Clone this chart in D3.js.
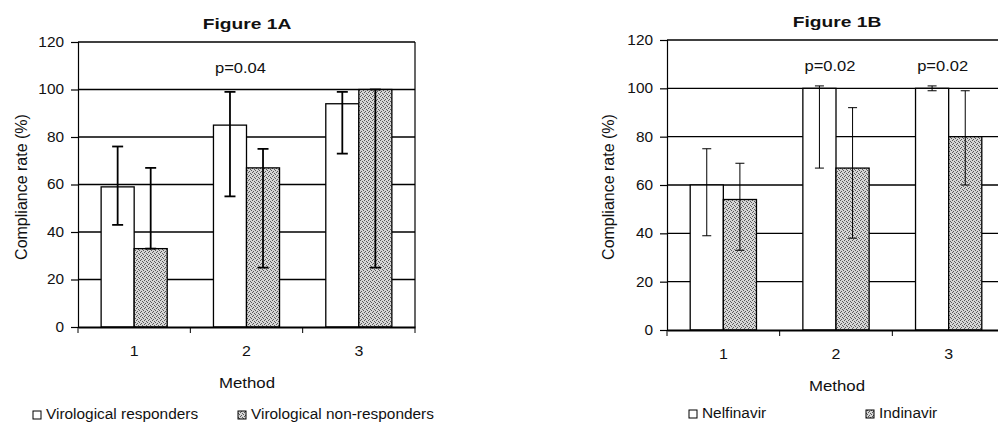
<!DOCTYPE html>
<html><head><meta charset="utf-8">
<script src="https://cdn.jsdelivr.net/npm/d3@7"></script>
<style>
html,body{margin:0;padding:0;background:#fff;}
svg{display:block;}
text{font-family:"Liberation Sans",Arial,sans-serif;fill:#111;}
</style></head>
<body>
<svg id="chart" width="998" height="423"></svg>
<script>
// ---------------- data ----------------
const categories = ["1", "2", "3"];
const yTicks = [0, 20, 40, 60, 80, 100, 120];

// Figure 1A
const seriesA = ["Virological responders", "Virological non-responders"];
const respondersValue = [59, 85, 94];
const respondersLow   = [43, 55, 73];
const respondersHigh  = [76, 99, 99];
const nonRespondersValue = [33, 67, 100];
const nonRespondersLow   = [33, 25, 25];
const nonRespondersHigh  = [67, 75, 100];
const pLabelsA = [{cat: "2", text: "p=0.04", v: 107}];

// Figure 1B
const seriesB = ["Nelfinavir", "Indinavir"];
const nelfinavirValue = [60, 100, 100];
const nelfinavirLow   = [39, 67, 99];
const nelfinavirHigh  = [75, 101, 101];
const indinavirValue = [54, 67, 80];
const indinavirLow   = [33, 38, 60];
const indinavirHigh  = [69, 92, 99];
const pLabelsB = [{cat: "2", text: "p=0.02", v: 107}, {cat: "3", text: "p=0.02", v: 107}];

// ---------------- drawing ----------------
const svg = d3.select("#chart");
const defs = svg.append("defs");
const pat = defs.append("pattern").attr("id", "stip")
  .attr("patternUnits", "userSpaceOnUse").attr("width", 4).attr("height", 4);
pat.append("rect").attr("width", 4).attr("height", 4).attr("fill", "#d6d6d6");
[[0,0],[2,1],[3,2],[1,3]].forEach(([x,y]) =>
  pat.append("rect").attr("x", x).attr("y", y).attr("width", 1).attr("height", 1).attr("fill", "#5a5a5a"));

function stretch(sel, k) {
  sel.each(function() {
    const w = this.getComputedTextLength();
    d3.select(this).attr("textLength", w * k).attr("lengthAdjust", "spacingAndGlyphs");
  });
}

function panel(cfg) {
  const g = svg.append("g");
  const x = d3.scaleBand().domain(categories).range([cfg.left, cfg.right]).padding(0);
  const y = d3.scaleLinear().domain([0, 120]).range([cfg.bottom, cfg.top]);
  const inner = d3.scaleBand().domain([0, 1]).range([0, x.bandwidth()]).paddingInner(0).paddingOuter(0.7);

  // gridlines
  g.append("g").selectAll("line").data(yTicks.filter(d => d > 0)).join("line")
    .attr("x1", cfg.left).attr("x2", cfg.right)
    .attr("y1", d => y(d)).attr("y2", d => y(d))
    .attr("stroke", "#000").attr("stroke-width", 1.4);

  // bars
  const rows = [];
  categories.forEach((c, i) => {
    cfg.series.forEach((s, j) => {
      rows.push({c, j, v: cfg.values[j][i], lo: cfg.low[j][i], hi: cfg.high[j][i]});
    });
  });
  g.append("g").selectAll("rect").data(rows).join("rect")
    .attr("x", d => x(d.c) + inner(d.j))
    .attr("width", inner.bandwidth())
    .attr("y", d => y(d.v))
    .attr("height", d => y(0) - y(d.v))
    .attr("fill", d => d.j === 0 ? "#fff" : "url(#stip)")
    .attr("stroke", "#000").attr("stroke-width", 1.3);

  // axes
  const yAxis = g.append("g").attr("transform", `translate(${cfg.left},0)`)
    .call(d3.axisLeft(y).tickValues(yTicks).tickSize(7).tickPadding(7));
  yAxis.select(".domain").attr("stroke", "#000").attr("stroke-width", 1.2);
  yAxis.selectAll(".tick line").attr("stroke", "#000").attr("stroke-width", 1.2);
  yAxis.selectAll("text").attr("font-size", 14).attr("font-family", "Liberation Sans, Arial, sans-serif").attr("fill", "#111");
  stretch(yAxis.selectAll("text"), 1.1);

  const xAxis = g.append("g").attr("transform", `translate(0,${cfg.bottom})`)
    .call(d3.axisBottom(x).tickSize(0).tickPadding(19));
  xAxis.select(".domain").attr("stroke", "#000").attr("stroke-width", 1.8);
  xAxis.selectAll("text").attr("font-size", 14.5).attr("font-family", "Liberation Sans, Arial, sans-serif").attr("fill", "#111");
  stretch(xAxis.selectAll("text"), 1.1);
  // boundary ticks
  g.append("g").selectAll("line").data(categories.concat(["end"])).join("line")
    .attr("x1", (d, i) => cfg.left + i * x.step()).attr("x2", (d, i) => cfg.left + i * x.step())
    .attr("y1", cfg.bottom).attr("y2", cfg.bottom + 6)
    .attr("stroke", "#000").attr("stroke-width", 1);

  // right border
  g.append("line").attr("x1", cfg.right).attr("x2", cfg.right)
    .attr("y1", cfg.top).attr("y2", cfg.bottom).attr("stroke", "#000").attr("stroke-width", 1.2);

  // error bars
  const eb = g.append("g").attr("stroke", "#000").attr("stroke-width", cfg.ebWidth);
  rows.forEach(d => {
    const cx = x(d.c) + inner(d.j) + inner.bandwidth() / 2;
    eb.append("line").attr("x1", cx).attr("x2", cx).attr("y1", y(d.lo)).attr("y2", y(d.hi));
    [d.lo, d.hi].forEach(v => eb.append("line")
      .attr("x1", cx - cfg.cap).attr("x2", cx + cfg.cap).attr("y1", y(v)).attr("y2", y(v)));
  });

  // p labels
  g.append("g").selectAll("text").data(cfg.pLabels).join("text")
    .attr("x", d => x(d.cat) + x.bandwidth() / 2 - 6)
    .attr("y", d => y(d.v)).attr("text-anchor", "middle").attr("font-size", 14)
    .text(d => d.text).call(s => stretch(s, 1.18));

  // title
  g.append("text").attr("x", cfg.titleX).attr("y", cfg.top - 13)
    .attr("text-anchor", "middle").attr("font-size", 15).attr("font-weight", "bold")
    .text(cfg.title).call(s => stretch(s, 1.28));

  // y label
  g.append("text").attr("transform", `translate(${cfg.ylabX},${cfg.ylabY}) rotate(-90)`)
    .attr("text-anchor", "middle").attr("font-size", 16)
    .text("Compliance rate (%)");

  // x label
  g.append("text").attr("x", cfg.titleX).attr("y", cfg.bottom + 61)
    .attr("text-anchor", "middle").attr("font-size", 14)
    .text("Method").call(s => stretch(s, 1.2));

  // legend
  cfg.legend.forEach((L, j) => {
    g.append("rect").attr("x", L.x).attr("y", cfg.legendY - 8).attr("width", 8).attr("height", 8)
      .attr("fill", j === 0 ? "#fff" : "url(#stip)").attr("stroke", "#000").attr("stroke-width", 1);
    g.append("text").attr("x", L.x + 13).attr("y", cfg.legendY).attr("font-size", 14)
      .text(cfg.series[j]).call(s => stretch(s, 1.1));
  });
}

panel({
  left: 78, right: 415, top: 42, bottom: 327,
  series: seriesA,
  values: [respondersValue, nonRespondersValue],
  low: [respondersLow, nonRespondersLow],
  high: [respondersHigh, nonRespondersHigh],
  pLabels: pLabelsA, ebWidth: 1.8, cap: 5.5,
  title: "Figure 1A", titleX: 247, ylabX: 27, ylabY: 187,
  legendY: 419, legend: [{x: 33}, {x: 238}]
});

panel({
  left: 667, right: 1005, top: 40, bottom: 330,
  series: seriesB,
  values: [nelfinavirValue, indinavirValue],
  low: [nelfinavirLow, indinavirLow],
  high: [nelfinavirHigh, indinavirHigh],
  pLabels: pLabelsB, ebWidth: 1, cap: 4.5,
  title: "Figure 1B", titleX: 837, ylabX: 614, ylabY: 187,
  legendY: 418, legend: [{x: 689}, {x: 866}]
});
</script>
</body></html>
